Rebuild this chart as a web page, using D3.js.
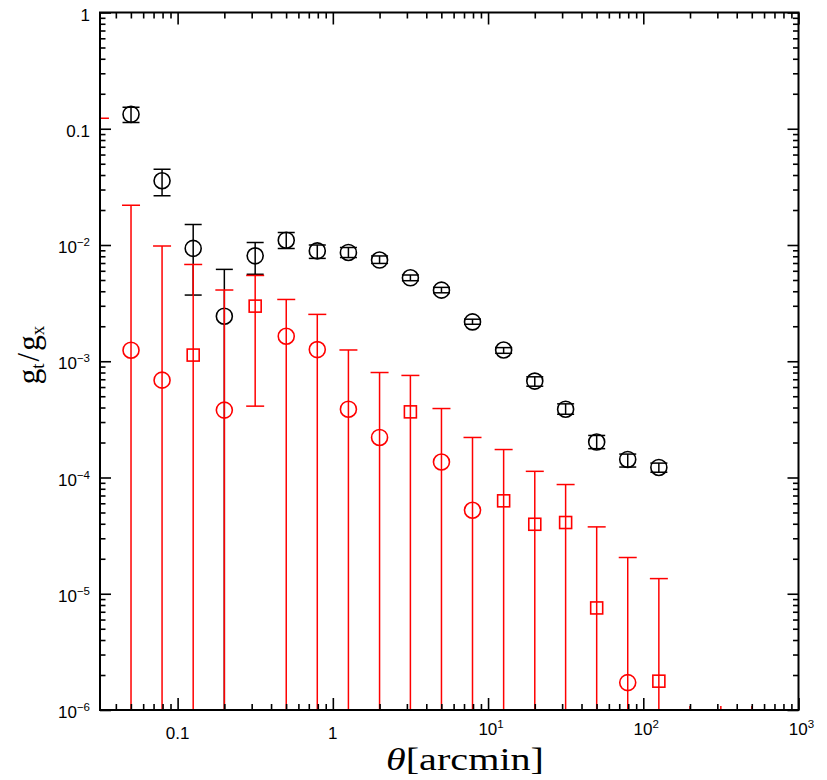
<!DOCTYPE html>
<html>
<head>
<meta charset="utf-8">
<script src="https://cdn.jsdelivr.net/npm/d3@7"></script>
<style>
  html, body { margin: 0; padding: 0; background: #fff; }
  svg { display: block; }
  .tick-label { font-family: "Liberation Sans", Arial, sans-serif; font-size: 17px; fill: #000; }
  .tick-label .sup { font-size: 11.5px; }
  .title { font-family: "Liberation Serif", "Times New Roman", serif; fill: #000; font-weight: normal; }
</style>
</head>
<body>
<svg id="chart" width="827" height="780"></svg>
<script>
// Angular bins (arcmin)
const theta = [0.0316, 0.0501, 0.0794, 0.126, 0.200, 0.316, 0.501, 0.794, 1.26, 2.00,
               3.16, 5.01, 7.94, 12.6, 20.0, 31.6, 50.1, 79.4, 126, 200, 316, 501];

// Tangential shear g_t (black circles): value, upper and lower error ends
const gtVal = [null, 0.133, 0.0357, 0.00935, 0.00244, 0.00807, 0.0110, 0.00891, 0.00863, 0.00742,
               0.00522, 0.00409, 0.00218, 0.00125, 0.000675, 0.000387, 0.000202, 0.000143, 0.000122, null, null, null];
const gtHi  = [null, 0.153, 0.0448, 0.0150, 0.00617, 0.0105, 0.0128, 0.00998, 0.0095, 0.00805,
               0.00552, 0.00432, 0.00230, 0.00131, 0.000735, 0.00043, 0.00023, 0.000159, 0.000133, null, null, null];
const gtLo  = [null, 0.113, 0.0265, 0.00371, null, 0.0056, 0.00935, 0.00767, 0.0078, 0.00694,
               0.00493, 0.00388, 0.00208, 0.00117, 0.00061, 0.00035, 0.000177, 0.000123, 0.000111, null, null, null];

// Cross shear |g_x| (red): circles positive, squares negative
const gxVal = [null, 1.245e-3, 6.88e-4, 1.13e-3, 3.8e-4, 2.98e-3, 1.64e-3, 1.26e-3, 3.87e-4, 2.21e-4,
               3.67e-4, 1.36e-4, 5.23e-5, 6.3e-5, 3.96e-5, 4.1e-5, 7.55e-6, 1.72e-6, 1.77e-6, null, null, null];
const gxHi  = [0.123, 0.0220, 0.0098, 0.0068, 0.0041, 0.00547, 0.0034, 0.00253, 0.00125, 0.0008,
               0.000755, 0.000392, 0.000221, 0.000174, 0.000113, 0.000087, 3.76e-5, 2.05e-5, 1.35e-5, 1.08e-6, 1.08e-6, 1.08e-6];
const gxLo  = [null, null, null, null, null, 4.11e-4, null, null, null, null,
               null, null, null, null, null, null, null, null, null, null, null, null];
const gxMark = ["", "o", "o", "s", "o", "s", "o", "o", "o", "o",
                "s", "o", "o", "s", "s", "s", "s", "o", "s", "", "", ""];
const gxCap = [true, true, true, true, true, true, true, true, true, true,
               true, true, true, true, true, true, true, true, true, false, false, false];

// Axis tick labels
const xTickVals = [0.1, 1, 10, 100, 1000];
const xTickMant = ["0.1", "1", "10", "10", "10"];
const xTickExp  = ["", "", "1", "2", "3"];
const yTickVals = [1, 0.1, 1e-2, 1e-3, 1e-4, 1e-5, 1e-6];
const yTickMant = ["1", "0.1", "10", "10", "10", "10", "10"];
const yTickExp  = ["", "", "−2", "−3", "−4", "−5", "−6"];

const L = 100, R = 798.5, T = 12.5, B = 710;
const x = d3.scaleLog().domain([Math.pow(10, -1.5), 1000]).range([L, R]);
const y = d3.scaleLog().domain([1e-6, 1]).range([B, T]);

const svg = d3.select("#chart");
const RED = "#ff0000";

svg.append("defs").append("clipPath").attr("id", "plotclip")
  .append("rect").attr("x", L).attr("y", T).attr("width", R - L).attr("height", B - T);

const plot = svg.append("g").attr("clip-path", "url(#plotclip)");

function yClamp(v) { return (v == null) ? B + 5 : y(v); }

// Black series error bars and circles
const gtG = plot.append("g").attr("stroke", "#000").attr("fill", "none");
theta.forEach((t, i) => {
  if (gtVal[i] == null) return;
  const cx = x(t);
  const yh = y(gtHi[i]), yl = yClamp(gtLo[i]);
  gtG.append("line").attr("x1", cx).attr("x2", cx).attr("y1", yh).attr("y2", yl).attr("stroke-width", 1.5);
  gtG.append("line").attr("x1", cx - 8.5).attr("x2", cx + 8.5).attr("y1", yh).attr("y2", yh).attr("stroke-width", 1.5);
  if (gtLo[i] != null)
    gtG.append("line").attr("x1", cx - 8.5).attr("x2", cx + 8.5).attr("y1", yl).attr("y2", yl).attr("stroke-width", 1.5);
  gtG.append("circle").attr("cx", cx).attr("cy", y(gtVal[i])).attr("r", 8).attr("stroke-width", 1.6);
});

// Red series error bars and markers
const gxG = plot.append("g").attr("stroke", RED).attr("fill", "none");
theta.forEach((t, i) => {
  if (gxHi[i] == null) return;
  const cx = x(t);
  const yh = y(gxHi[i]), yl = yClamp(gxLo[i]);
  gxG.append("line").attr("x1", cx).attr("x2", cx).attr("y1", yh).attr("y2", yl).attr("stroke-width", 1.5);
  if (gxCap[i])
    gxG.append("line").attr("x1", cx - 9).attr("x2", cx + 9).attr("y1", yh).attr("y2", yh).attr("stroke-width", 1.5);
  if (gxLo[i] != null)
    gxG.append("line").attr("x1", cx - 9).attr("x2", cx + 9).attr("y1", yl).attr("y2", yl).attr("stroke-width", 1.5);
  if (gxVal[i] == null) return;
  const cy = y(gxVal[i]);
  if (gxMark[i] === "o") {
    gxG.append("circle").attr("cx", cx).attr("cy", cy).attr("r", 8).attr("stroke-width", 1.6);
  } else {
    gxG.append("rect").attr("x", cx - 6).attr("y", cy - 6).attr("width", 12).attr("height", 12).attr("stroke-width", 1.6);
  }
});

// Frame ticks (inward on all four sides)
const isDecade = v => Math.abs(Math.log10(v) - Math.round(Math.log10(v))) < 1e-6;
const xMinor = x.ticks().filter(v => !isDecade(v));
const yMinor = y.ticks().filter(v => !isDecade(v));

function styleAxis(g) {
  g.select(".domain").remove();
  g.selectAll("text").remove();
  g.selectAll("line").attr("stroke", "#000").attr("stroke-width", 1.6);
}
const axes = svg.append("g");
[[xTickVals, 12], [xMinor, 6]].forEach(([vals, len]) => {
  axes.append("g").attr("transform", `translate(0,${B})`)
    .call(d3.axisTop(x).tickValues(vals).tickSize(len).tickFormat("")).call(styleAxis);
  axes.append("g").attr("transform", `translate(0,${T})`)
    .call(d3.axisBottom(x).tickValues(vals).tickSize(len).tickFormat("")).call(styleAxis);
});
[[yTickVals, 11], [yMinor, 5.5]].forEach(([vals, len]) => {
  axes.append("g").attr("transform", `translate(${L},0)`)
    .call(d3.axisRight(y).tickValues(vals).tickSize(len).tickFormat("")).call(styleAxis);
  axes.append("g").attr("transform", `translate(${R},0)`)
    .call(d3.axisLeft(y).tickValues(vals).tickSize(len).tickFormat("")).call(styleAxis);
});
axes.append("rect").attr("x", L).attr("y", T).attr("width", R - L).attr("height", B - T)
  .attr("fill", "none").attr("stroke", "#000").attr("stroke-width", 2);

// Tick labels
function addLabel(t, mant, exp) {
  t.append("tspan").text(mant);
  if (exp) t.append("tspan").attr("class", "sup").attr("dy", -7).text(exp);
}
yTickVals.forEach((v, i) => {
  const t = svg.append("text").attr("class", "tick-label")
    .attr("x", 90).attr("y", y(v) + 8).attr("text-anchor", "end");
  addLabel(t, yTickMant[i], yTickExp[i]);
});
xTickVals.forEach((v, i) => {
  const t = svg.append("text").attr("class", "tick-label")
    .attr("x", x(v) + (xTickExp[i] ? 3 : 0)).attr("y", xTickExp[i] ? 735 : 739)
    .attr("text-anchor", "middle");
  addLabel(t, xTickMant[i], xTickExp[i]);
});

// Axis titles
const xt = svg.append("text").attr("class", "title")
  .attr("x", 465).attr("y", 770).attr("text-anchor", "middle")
  .style("font-size", "31px")
  .attr("textLength", 158).attr("lengthAdjust", "spacingAndGlyphs");
xt.append("tspan").attr("font-style", "italic").text("θ");
xt.append("tspan").text("[arcmin]");

const yt = svg.append("text").attr("class", "title")
  .attr("transform", "translate(39,355) rotate(-90)")
  .attr("text-anchor", "middle")
  .style("font-size", "31px");
yt.append("tspan").text("g");
yt.append("tspan").style("font-size", "19px").attr("dy", 5).text("t");
yt.append("tspan").attr("dy", -5).attr("dx", 2).text("/");
yt.append("tspan").attr("dx", 2).text("g");
yt.append("tspan").style("font-size", "19px").attr("dy", 5).text("x");
</script>
</body>
</html>
